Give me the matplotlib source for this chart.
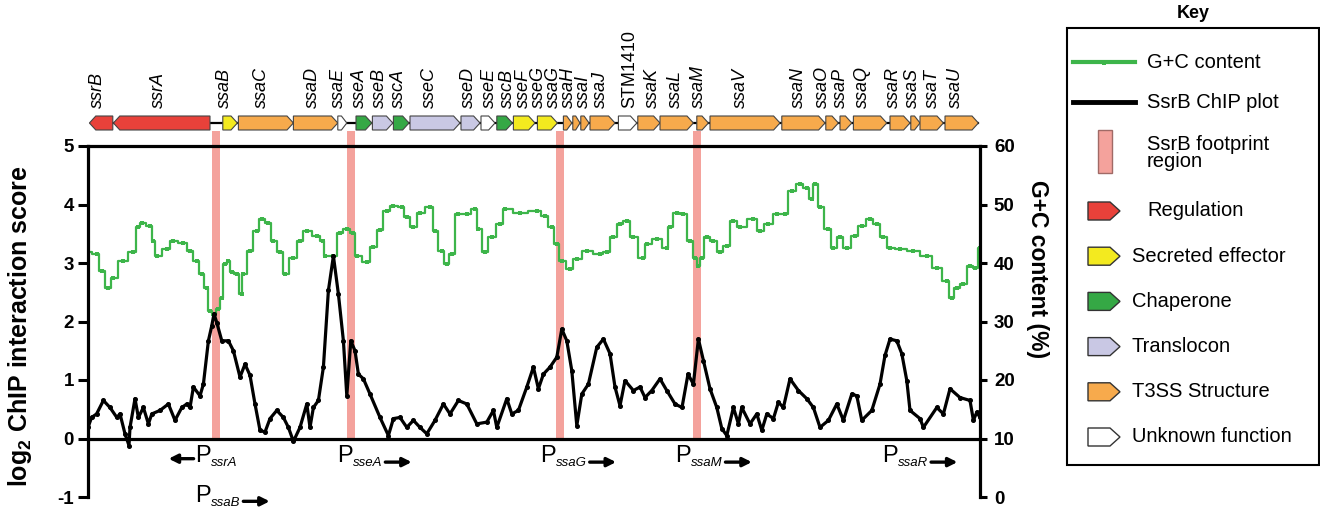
import matplotlib
matplotlib.use("Agg")
import matplotlib.pyplot as plt
from matplotlib.patches import Polygon, Rectangle
from matplotlib.text import OffsetFrom

plt.rcParams['font.family'] = ['Liberation Sans', 'DejaVu Sans']
plt.rcParams['mathtext.fontset'] = 'custom'
plt.rcParams['mathtext.rm'] = 'Liberation Sans:bold'
plt.rcParams['mathtext.bf'] = 'Liberation Sans:bold'

# ---------------- data (position in kb) ----------------
gc_x = [0.0, 0.43, 0.69, 1.02, 1.25, 1.75, 2.25, 2.5, 2.69, 3.1,
        3.25, 3.44, 3.94, 4.25, 4.75, 5.1, 5.44, 5.69, 5.94, 6.1,
        6.25, 6.5, 6.69, 6.85, 7.0, 7.19, 7.44, 7.69, 7.75, 8.1,
        8.44, 8.69, 9.02, 9.25, 9.6, 9.85, 10.27, 10.6, 10.94, 11.44,
        11.77, 11.85, 12.27, 12.6, 12.94, 13.27, 13.44, 13.94, 14.27, 14.6,
        14.94, 15.27, 15.69, 15.94, 16.27, 16.6, 17.1, 17.35, 17.69, 17.94,
        18.19, 18.52, 18.94, 19.35, 19.52, 19.85, 20.19, 20.6, 20.85, 21.6,
        22.44, 22.85, 23.19, 23.44, 23.69, 24.1, 24.44, 24.94, 25.6, 25.94,
        26.27, 26.6, 26.94, 27.27, 27.77, 27.94, 28.44, 28.94, 29.1, 29.44,
        29.77, 30.1, 30.35, 30.52, 30.69, 30.94, 31.27, 31.6, 31.94, 32.27,
        32.6, 33.27, 33.6, 34.02, 34.44, 34.85, 35.19, 35.6, 35.94, 36.19,
        36.35, 36.6, 37.02, 37.27, 37.6, 37.94, 38.35, 38.69, 39.1, 39.44,
        39.77, 40.1, 40.6, 41.27, 41.94, 42.44, 42.94, 43.19, 43.44, 43.77,
        44.1, 44.35, 44.6]
gc_pct = [41.8, 41.6, 38.7, 35.8, 37.5, 40.4, 41.8, 46.1, 46.9, 46.3,
          43.8, 41.2, 42.4, 43.8, 43.5, 42.1, 40.4, 38.1, 35.8, 31.8,
          31.3, 32.2, 34.1, 39.9, 40.4, 38.4, 38.1, 34.7, 38.1, 42.1,
          45.5, 47.5, 46.9, 43.8, 41.8, 38.1, 40.9, 43.8, 45.5, 44.6,
          43.8, 41.2, 41.2, 45.2, 45.8, 45.2, 41.2, 40.1, 42.7, 45.6,
          48.9, 49.8, 49.5, 47.8, 46.1, 48.6, 49.5, 45.5, 42.1, 39.8,
          41.5, 48.3, 48.3, 49.2, 45.8, 41.8, 44.4, 46.6, 49.2, 48.6,
          48.9, 48.1, 46.1, 43.2, 40.4, 39.0, 40.7, 42.1, 41.5, 41.8,
          44.4, 46.6, 47.2, 44.4, 40.9, 43.2, 44.1, 42.6, 46.1, 48.6,
          48.3, 43.8, 40.9, 39.5, 40.9, 44.4, 43.8, 41.8, 42.9, 47.2,
          46.1, 47.5, 45.5, 46.6, 48.3, 48.3, 52.3, 53.5, 52.9, 50.9,
          53.5, 49.5, 45.8, 42.6, 44.4, 42.6, 44.6, 46.3, 47.5, 46.6,
          44.4, 42.6, 42.4, 42.1, 41.2, 39.2, 37.0, 34.1, 35.8, 36.4,
          39.5, 39.2, 42.6]

chip_x = [0.0, 0.18, 0.43, 0.77, 1.1, 1.44, 1.6, 1.85, 2.05, 2.1,
          2.35, 2.52, 2.77, 3.02, 3.19, 3.6, 4.02, 4.35, 4.69, 4.94,
          5.1, 5.27, 5.6, 5.77, 6.02, 6.19, 6.3, 6.44, 6.69, 7.02,
          7.27, 7.6, 7.85, 8.1, 8.35, 8.6, 8.85, 9.1, 9.44, 9.77,
          10.02, 10.27, 10.6, 10.94, 11.1, 11.27, 11.52, 11.77, 12.02, 12.27,
          12.52, 12.77, 12.94, 13.14, 13.35, 13.52, 13.77, 14.1, 14.6, 15.02,
          15.27, 15.6, 15.94, 16.27, 16.6, 16.94, 17.35, 17.77, 18.1, 18.52,
          18.94, 19.44, 19.94, 20.27, 20.44, 20.94, 21.19, 21.52, 21.94, 22.27,
          22.52, 22.77, 23.1, 23.44, 23.69, 23.94, 24.19, 24.44, 24.69, 25.02,
          25.44, 25.77, 26.1, 26.35, 26.6, 26.85, 27.27, 27.6, 27.85, 28.19,
          28.6, 28.94, 29.35, 29.7, 30.0, 30.27, 30.52, 30.77, 31.1, 31.44,
          31.69, 31.94, 32.27, 32.52, 32.69, 33.1, 33.44, 33.69, 33.94, 34.27,
          34.52, 34.77, 35.1, 35.52, 35.94, 36.27, 36.6, 37.02, 37.44, 37.77,
          38.19, 38.44, 38.69, 39.19, 39.6, 39.85, 40.1, 40.44, 40.69, 40.94,
          41.1, 41.6, 41.77, 42.44, 42.77, 43.1, 43.6, 44.1, 44.27, 44.44,
          44.6]
chip_val = [0.19, 0.36, 0.42, 0.65, 0.53, 0.36, 0.42, 0.08, -0.12, 0.19,
            0.68, 0.36, 0.53, 0.25, 0.42, 0.48, 0.59, 0.31, 0.53, 0.59,
            0.53, 0.88, 0.73, 0.93, 1.67, 1.93, 2.13, 1.98, 1.67, 1.67,
            1.50, 1.05, 1.27, 1.08, 0.59, 0.14, 0.11, 0.34, 0.48, 0.36,
            0.19, -0.05, 0.19, 0.59, 0.19, 0.53, 0.65, 1.22, 2.53, 3.12,
            2.47, 1.67, 0.73, 1.67, 1.50, 1.10, 1.02, 0.76, 0.36, 0.05,
            0.34, 0.36, 0.19, 0.31, 0.19, 0.08, 0.31, 0.59, 0.42, 0.65,
            0.59, 0.25, 0.28, 0.48, 0.19, 0.68, 0.42, 0.48, 0.88, 1.22,
            0.85, 1.10, 1.22, 1.39, 1.87, 1.67, 1.16, 0.22, 0.76, 0.93,
            1.56, 1.70, 1.45, 0.88, 0.56, 0.99, 0.82, 0.88, 0.70, 0.82,
            1.02, 0.82, 0.59, 0.53, 1.10, 0.93, 1.70, 1.33, 0.85, 0.53,
            0.17, 0.05, 0.53, 0.25, 0.53, 0.25, 0.42, 0.14, 0.42, 0.34,
            0.62, 0.53, 1.02, 0.82, 0.68, 0.53, 0.19, 0.31, 0.59, 0.31,
            0.76, 0.73, 0.31, 0.48, 0.93, 1.42, 1.70, 1.67, 1.45, 0.99,
            0.48, 0.34, 0.19, 0.53, 0.42, 0.85, 0.70, 0.65, 0.31, 0.45,
            0.36]

footprint_x = [6.4, 13.15, 23.6, 30.45]

gene_names = ['ssrB', 'ssrA', 'ssaB', 'ssaC', 'ssaD', 'ssaE', 'sseA', 'sseB',
              'sscA', 'sseC', 'sseD', 'sseE', 'sscB', 'sseF', 'sseG', 'ssaG',
              'ssaH', 'ssaI', 'ssaJ', 'STM1410', 'ssaK', 'ssaL', 'ssaM', 'ssaV',
              'ssaN', 'ssaO', 'ssaP', 'ssaQ', 'ssaR', 'ssaS', 'ssaT', 'ssaU']
gene_start = [0.07, 1.27, 6.74, 7.52, 10.27, 12.49, 13.4, 14.22, 15.27, 16.1,
              18.65, 19.65, 20.44, 21.27, 22.47, 23.77, 24.24, 24.64, 25.1, 26.52,
              27.49, 28.6, 30.44, 31.1, 34.69, 36.89, 37.6, 38.27, 40.1, 41.14,
              41.6, 42.85]
gene_end = [1.24, 6.1, 7.47, 10.27, 12.49, 12.94, 14.19, 15.24, 16.05, 18.6,
            19.6, 20.35, 21.22, 22.35, 23.47, 24.19, 24.6, 25.05, 26.35, 27.44,
            28.6, 30.27, 31.02, 34.6, 36.85, 37.52, 38.19, 39.94, 41.1, 41.6,
            42.77, 44.52]
gene_strand = [-1, -1] + [1] * 30
gene_class = ['reg', 'reg', 'eff', 't3ss', 't3ss', 'unk', 'chap', 'trans',
              'chap', 'trans', 'trans', 'unk', 'chap', 'eff', 'eff', 't3ss',
              't3ss', 't3ss', 't3ss', 'unk'] + ['t3ss'] * 12
label_x = [0.45, 3.5, 6.8, 8.65, 11.2, 12.5, 13.55, 14.55, 15.5, 17.05,
           19.0, 20.05, 20.95, 21.75, 22.5, 23.25, 24.0, 24.75, 25.6, 27.1,
           28.2, 29.35, 30.5, 32.6, 35.5, 36.7, 37.6, 38.7, 40.25, 41.2,
           42.2, 43.35]

prom_names = ['ssrA', 'ssaB', 'sseA', 'ssaG', 'ssaM', 'ssaR']
prom_x = [5.35, 5.35, 12.45, 22.6, 29.35, 39.7]
prom_y = [-0.41, -1.08, -0.41, -0.41, -0.41, -0.41]
prom_dir = [-1, 1, 1, 1, 1, 1]

class_color = {'reg': '#e8413a', 'eff': '#f3ea1f', 'chap': '#35a845',
               'trans': '#c9c8e4', 't3ss': '#f7aa4c', 'unk': '#ffffff'}
key_classes = ['reg', 'eff', 'chap', 'trans', 't3ss', 'unk']
key_labels = ['Regulation', 'Secreted effector', 'Chaperone', 'Translocon',
              'T3SS Structure', 'Unknown function']

GREEN = '#3db54a'
PINK = '#f4a29c'
XMAX = 44.6
# -----------------------------------------------------


def arrow_poly(x0, x1, yc, h, head, strand):
    head = min(head, 0.6 * (x1 - x0))
    if strand > 0:
        return [(x0, yc - h/2), (x1 - head, yc - h/2), (x1, yc),
                (x1 - head, yc + h/2), (x0, yc + h/2)]
    return [(x1, yc - h/2), (x0 + head, yc - h/2), (x0, yc),
            (x0 + head, yc + h/2), (x1, yc + h/2)]


fig = plt.figure(figsize=(13.2, 5.07), dpi=100)
W, H = 1320., 507.

# main plot
ax = fig.add_axes([88/W, 10/H, 892/W, 351/H])
ax2 = ax.twinx()
ax.set_xlim(0, XMAX)
ax.set_ylim(-1, 5)
ax2.set_ylim(0, 60)
ax.set_xticks([])

ax.bar(footprint_x, 5.26, width=0.4, bottom=0, color=PINK, zorder=1, clip_on=False)
ax.plot(gc_x, gc_pct, color=GREEN, lw=1.6, drawstyle='steps-mid', marker='s',
        ms=2.2, mew=0, transform=ax2.transData, zorder=2)
ax.plot(chip_x, chip_val, color='black', lw=2.3, marker='o', ms=2.6, zorder=3)
ax.axhline(0, color='black', lw=2.3, zorder=4)

for s in ['bottom', 'right']:
    ax.spines[s].set_visible(False)
for s in ['bottom', 'left', 'top']:
    ax2.spines[s].set_visible(False)
for sp in [ax.spines['left'], ax.spines['top'], ax2.spines['right']]:
    sp.set_linewidth(2.3)

ax.set_yticks(range(-1, 6))
ax.set_yticklabels([str(v) for v in range(-1, 6)], fontweight='bold', fontsize=13.5)
ax.tick_params(axis='y', length=7, width=2.2, pad=3)
ax2.set_yticks(range(0, 61, 10))
ax2.set_yticklabels([str(v) for v in range(0, 61, 10)], fontweight='bold', fontsize=13.5)
ax2.tick_params(axis='y', length=5, width=2.2, pad=5)

ax.set_ylabel(r'log$_\mathregular{2}$ ChIP interaction score', fontsize=18, fontweight='bold')
ax.yaxis.set_label_coords(-0.060, 0.487)
ax2.set_ylabel('G+C content (%)', fontsize=16.5, fontweight='bold', rotation=270, va='center')
ax2.yaxis.set_label_coords(1.065, 0.65)

# promoter labels
arw = dict(arrowstyle='-|>', lw=2.4, color='black', mutation_scale=13,
           shrinkA=0, shrinkB=0)
for name, px, py, d in zip(prom_names, prom_x, prom_y, prom_dir):
    tp = ax.text(px, py, 'P', fontsize=17, ha='left', va='baseline', clip_on=False)
    ts = ax.annotate(name, xy=(1, 0), xycoords=tp, xytext=(0.3, 3.0),
                     textcoords='offset points', fontsize=9.5, style='italic',
                     ha='left', va='center')
    if d > 0:
        ref = OffsetFrom(ts, (1, 0.6))
        ax.annotate('', xy=(21, 0), xycoords=ref, xytext=(2, 0), textcoords=ref,
                    arrowprops=arw)
    else:
        ref = OffsetFrom(tp, (0, 0.4))
        ax.annotate('', xy=(-19, 0), xycoords=ref, xytext=(-1, 0), textcoords=ref,
                    arrowprops=arw)

# gene track
axg = fig.add_axes([88/W, (H - 140)/H, 892/W, 140/H])
axg.set_xlim(0, XMAX)
axg.set_ylim(140, 0)
axg.axis('off')
axg.plot([gene_start[1], gene_end[-1]], [123, 123], color='black', lw=1.6, zorder=1)
for x0, x1, st, cl in zip(gene_start, gene_end, gene_strand, gene_class):
    axg.add_patch(Polygon(arrow_poly(x0, x1, 123, 14, 0.32, st), closed=True,
                          facecolor=class_color[cl], edgecolor='#444444',
                          lw=0.8, zorder=2))
for name, lx in zip(gene_names, label_x):
    axg.text(lx, 108, name, rotation=90, ha='center', va='bottom', fontsize=13,
             style='normal' if name.startswith('STM') else 'italic')

# key
axk = fig.add_axes([1060/W, 0, 260/W, 1])
axk.set_xlim(1060, 1320)
axk.set_ylim(507, 0)
axk.axis('off')
axk.add_patch(Rectangle((1067, 28), 252, 437, fill=False, lw=1.5, ec='black'))
axk.text(1193, 13, 'Key', ha='center', va='center', fontsize=13, fontweight='bold')
axk.plot([1073, 1135], [62, 62], color=GREEN, lw=3)
axk.plot([1104], [63], color=GREEN, marker='s', ms=2.2, mew=0)
axk.text(1147, 62, 'G+C content', va='center', fontsize=14.5)
axk.plot([1073, 1135], [102, 102], color='black', lw=3.5)
axk.text(1147, 102, 'SsrB ChIP plot', va='center', fontsize=14.5)
axk.add_patch(Rectangle((1098, 130), 14, 43, facecolor=PINK, edgecolor='#a06a66', lw=1))
axk.text(1147, 153, 'SsrB footprint\nregion', va='center', fontsize=14.5, linespacing=0.85)
for i, (cl, lab) in enumerate(zip(key_classes, key_labels)):
    yc = 211 + i * 45.2
    axk.add_patch(Polygon(arrow_poly(1088, 1120, yc, 18, 10, 1), closed=True,
                          facecolor=class_color[cl], edgecolor='#333333', lw=1))
    axk.text(1147 if i == 0 else 1132, yc, lab, va='center', fontsize=14.5)

fig.savefig('out.png', dpi=100)
